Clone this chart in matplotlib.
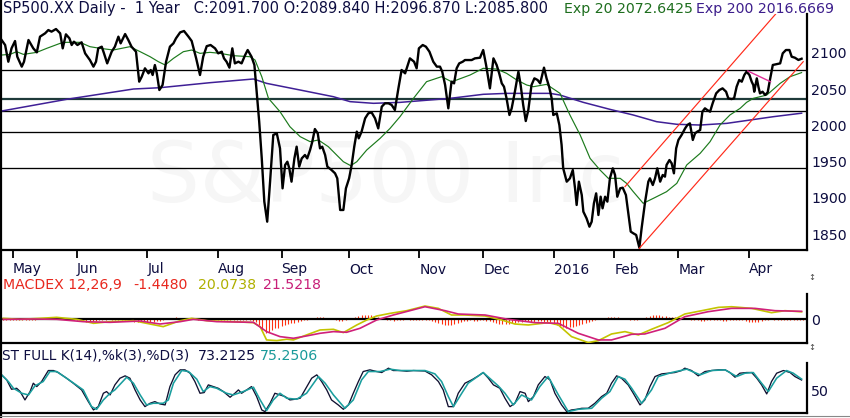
import matplotlib
matplotlib.use("Agg")
import matplotlib.pyplot as plt
from matplotlib.lines import Line2D

# ---- data (x = trading session index) ----
price_day = [0.5, 1.6, 2.6, 3.6, 4.7, 5.4, 6.8, 7.5, 8.9, 10.4,
             11.5, 12.5, 14.1, 15.1, 16.1, 17.5, 18.8, 19.6, 20.6, 21.7,
             22.4, 23.1, 24.2, 25.5, 26.6, 28.1, 29.2, 30.0, 30.7, 31.8,
             32.5, 33.5, 34.9, 35.9, 37.0, 37.7, 39.1, 40.1, 41.1, 42.5,
             43.5, 44.3, 45.3, 46.4, 47.1, 47.7, 48.4, 49.0, 49.8, 50.8,
             51.9, 53.1, 54.2, 55.0, 56.3, 57.5, 58.9, 59.9, 61.3, 62.5,
             63.5, 64.6, 65.8, 67.2, 68.2, 69.3, 70.0, 70.8, 71.7, 72.6,
             73.4, 74.5, 75.5, 76.6, 77.4, 78.6, 79.5, 80.2, 81.0, 81.8,
             82.6, 83.5, 84.4, 85.4, 86.5, 87.5, 88.3, 89.1, 89.8, 90.4,
             91.1, 92.0, 92.7, 93.5, 94.3, 95.3, 96.0, 96.9, 97.6, 98.4,
             99.3, 100.0, 100.7, 101.6, 102.3, 103.6, 104.7, 105.4, 106.3, 107.3,
             108.1, 109.1, 109.9, 110.7, 111.5, 112.1, 113.0, 114.1, 115.1, 116.1,
             117.2, 118.2, 119.3, 120.3, 121.4, 122.4, 123.4, 124.5, 125.5, 126.6,
             128.1, 129.4, 130.2, 130.9, 132.1, 133.1, 134.2, 135.4, 136.5, 137.5,
             138.2, 139.1, 140.1, 141.1, 141.9, 142.7, 143.5, 144.6, 145.3, 146.4,
             147.4, 148.4, 150.0, 151.0, 151.9, 153.1, 154.2, 155.2, 156.0, 156.8,
             157.5, 158.3, 159.2, 159.9, 160.9, 162.0, 162.7, 163.5, 164.3, 165.1,
             166.1, 167.0, 168.0, 168.8, 170.0, 170.8, 171.6, 172.4, 172.9, 174.0,
             174.8, 175.5, 176.0, 177.1, 178.1, 179.0, 179.7, 180.2, 180.9, 181.8,
             182.3, 183.3, 184.2, 184.9, 185.6, 186.3, 187.0, 187.7, 188.3, 189.1,
             189.8, 190.6, 191.5, 192.2, 192.9, 193.8, 194.6, 195.6, 196.4, 197.1,
             197.9, 198.8, 199.8, 200.5, 201.6, 202.6, 203.1, 204.0, 204.7, 205.4,
             206.3, 207.1, 207.8, 208.3, 209.2, 209.9, 210.6, 211.3, 212.0, 213.0,
             214.1, 214.8, 215.6, 216.5, 217.2, 217.9, 218.8, 219.5, 220.3, 221.0,
             221.9, 222.7, 223.8, 224.8, 225.8, 226.9, 227.6, 228.6, 229.4, 230.2,
             231.0, 231.8, 232.6, 233.3, 234.2, 234.9, 235.4, 235.7, 236.5, 237.0,
             237.5, 238.3, 239.1, 239.9, 240.6, 241.5, 242.5, 243.8, 244.6, 245.6,
             246.7, 247.4, 248.4, 249.5, 250.5]
price_close = [2117.5, 2110.6, 2087.6, 2106.0, 2116.1, 2094.5, 2080.8, 2087.6, 2117.5, 2106.0,
               2100.5, 2122.1, 2126.7, 2131.2, 2129.0, 2132.6, 2126.7, 2106.0, 2125.3, 2119.8,
               2110.6, 2115.2, 2110.6, 2114.3, 2099.1, 2089.9, 2080.8, 2087.6, 2106.0, 2108.3,
               2099.1, 2085.3, 2101.4, 2108.3, 2122.1, 2112.9, 2125.7, 2117.5, 2108.3, 2101.4,
               2060.1, 2067.0, 2078.5, 2071.6, 2076.2, 2069.3, 2083.0, 2071.6, 2048.6, 2055.5,
               2087.6, 2108.3, 2112.9, 2119.8, 2128.0, 2129.9, 2122.1, 2116.1, 2092.2, 2069.3,
               2094.5, 2109.0, 2110.6, 2106.0, 2099.1, 2101.4, 2092.2, 2087.6, 2079.4, 2106.0,
               2085.3, 2087.6, 2085.3, 2096.8, 2103.7, 2094.5, 2083.1, 2046.3, 2005.0, 1954.5,
               1894.9, 1867.3, 1922.4, 1986.7, 1988.9, 1968.3, 1913.2, 1945.4, 1949.9, 1940.8,
               1922.4, 1954.5, 1970.6, 1943.1, 1954.5, 1959.1, 1954.5, 1966.0, 1977.5, 1994.9,
               1988.9, 1968.3, 1970.6, 1959.1, 1943.1, 1938.5, 1933.9, 1927.0, 1883.4, 1883.4,
               1913.2, 1927.0, 1945.4, 1970.6, 1991.3, 1982.1, 1991.3, 2009.6, 2016.5, 2017.9,
               2009.6, 1995.8, 2025.7, 2030.3, 2030.3, 2028.0, 2021.1, 2050.9, 2076.2, 2071.6,
               2092.2, 2087.6, 2078.5, 2106.0, 2110.6, 2108.3, 2101.4, 2087.6, 2080.8, 2080.8,
               2073.9, 2055.5, 2023.4, 2060.1, 2057.8, 2078.5, 2085.3, 2087.6, 2089.9, 2089.9,
               2089.9, 2092.2, 2093.1, 2103.7, 2083.1, 2050.9, 2092.2, 2083.1, 2071.6, 2057.8,
               2053.2, 2037.1, 2014.2, 2023.4, 2046.3, 2073.9, 2055.5, 2028.0, 2005.9, 2021.1,
               2055.5, 2064.7, 2062.4, 2057.8, 2079.4, 2064.7, 2053.2, 2037.1, 2014.2, 2016.5,
               2000.4, 1972.9, 1940.8, 1922.4, 1927.0, 1938.5, 1913.2, 1890.3, 1922.4, 1904.0,
               1881.1, 1871.9, 1860.4, 1867.3, 1892.6, 1906.3, 1876.5, 1901.7, 1885.7, 1901.7,
               1894.9, 1927.0, 1940.8, 1931.6, 1901.7, 1913.2, 1914.1, 1904.0, 1876.5, 1853.6,
               1851.3, 1849.0, 1831.5, 1858.1, 1894.9, 1922.4, 1927.0, 1917.8, 1927.0, 1940.8,
               1922.4, 1931.6, 1929.3, 1945.4, 1952.2, 1947.6, 1933.9, 1968.3, 1979.8, 1986.7,
               1995.8, 2000.4, 2002.7, 1979.8, 1988.9, 1991.3, 1993.5, 2018.8, 2023.4, 2021.1,
               2018.8, 2030.3, 2044.0, 2048.6, 2050.9, 2046.3, 2037.1, 2036.2, 2037.1, 2053.2,
               2062.4, 2060.1, 2069.3, 2073.9, 2069.3, 2060.1, 2055.5, 2046.3, 2064.7, 2053.2,
               2044.0, 2046.3, 2041.7, 2045.4, 2062.4, 2083.1, 2084.0, 2085.3, 2099.1, 2103.7,
               2103.7, 2094.5, 2093.1, 2090.0, 2091.7]

ema20_day = [0.5, 3.1, 5.2, 7.3, 11.5, 14.6, 18.8, 20.8, 25.0, 28.1,
             31.3, 35.4, 40.6, 43.8, 46.9, 49.5, 51.6, 54.2, 57.3, 59.9,
             62.5, 65.6, 68.8, 72.9, 78.1, 79.7, 81.8, 83.9, 87.5, 90.6,
             93.8, 96.9, 99.5, 102.6, 105.2, 107.3, 109.6, 111.5, 114.6, 118.8,
             121.9, 125.0, 129.2, 133.3, 138.0, 141.1, 142.7, 146.9, 151.0, 155.2,
             158.3, 161.5, 164.6, 166.7, 170.8, 175.0, 178.1, 181.3, 184.4, 187.5,
             190.1, 193.8, 195.8, 197.9, 201.0, 204.2, 208.3, 211.5, 214.6, 218.8,
             221.9, 225.0, 228.1, 231.3, 233.3, 235.4, 239.6, 243.8, 246.9, 250.5]
ema20 = [2096.8, 2097.7, 2101.4, 2097.7, 2100.5, 2106.0, 2112.9, 2114.3, 2114.3, 2108.3,
         2106.0, 2103.7, 2108.3, 2101.4, 2094.5, 2087.6, 2083.1, 2092.2, 2101.4, 2103.7,
         2099.1, 2100.5, 2099.1, 2095.9, 2094.5, 2089.9, 2067.0, 2037.1, 2018.8, 1998.1,
         1984.4, 1977.5, 1979.8, 1970.6, 1959.1, 1949.9, 1944.4, 1949.9, 1966.0, 1982.1,
         1995.8, 2011.9, 2037.1, 2060.1, 2067.0, 2060.1, 2062.4, 2069.3, 2078.5, 2077.5,
         2071.6, 2062.4, 2055.5, 2053.2, 2056.4, 2044.0, 2014.2, 1986.7, 1954.5, 1938.5,
         1927.0, 1927.0, 1920.1, 1908.6, 1892.6, 1899.5, 1908.6, 1920.1, 1945.4, 1961.4,
         1977.5, 2000.4, 2014.2, 2023.4, 2031.6, 2037.1, 2041.7, 2057.8, 2067.0, 2072.6]

ema200_day = [0.5, 20.8, 41.7, 50.0, 65.6, 79.2, 83.3, 93.8, 104.2, 109.4,
              116.7, 125.0, 140.6, 151.0, 158.3, 171.9, 175.0, 182.3, 190.6, 197.9,
              205.2, 211.5, 218.8, 227.1, 234.4, 241.7, 250.5]
ema200 = [2019.7, 2035.8, 2050.0, 2051.8, 2058.7, 2063.8, 2057.8, 2048.6, 2039.4, 2032.6,
          2030.3, 2031.6, 2037.1, 2042.7, 2044.0, 2044.0, 2041.7, 2031.6, 2022.0, 2014.2,
          2005.0, 2001.4, 2000.4, 2002.7, 2007.3, 2011.9, 2016.7]

levels = [2076.2, 2035.8, 2019.7, 1990.4, 1940.8]
upper_day, upper_val = [195.3, 242.4], [1915.5, 2153.3]
lower_day, lower_val = [199.8, 251.0], [1830.7, 2087.6]
pink_day, pink_val = [233.7, 240.8], [2074.8, 2060.0]

month_days = [4, 24, 46, 68, 88, 109, 131, 151, 173, 192, 212, 234]
month_labels = ["May", "Jun", "Jul", "Aug", "Sep", "Oct", "Nov", "Dec",
                "2016", "Feb", "Mar", "Apr"]
price_ticks = [1850, 1900, 1950, 2000, 2050, 2100]

macd_day = [1.0, 6.3, 12.5, 17.7, 24.0, 29.2, 34.4, 41.7, 45.8, 51.0,
            56.3, 59.9, 64.6, 72.9, 79.2, 81.3, 83.3, 86.5, 89.6, 91.7,
            95.8, 100.0, 104.2, 107.3, 111.5, 114.6, 117.7, 121.9, 127.1, 132.8,
            137.0, 141.1, 145.3, 151.6, 156.8, 160.9, 165.1, 171.3, 174.5, 178.6,
            183.8, 187.0, 191.1, 195.3, 199.5, 203.6, 208.8, 214.0, 219.3, 224.5,
            228.6, 234.9, 241.1, 245.3, 250.5]
macd_line = [1.9, -0.9, 1.9, 4.7, -0.9, -12.1, -7.4, -4.7, -12.1, -21.4,
             -4.7, 1.9, -4.7, -7.4, -10.2, -21.4, -58.6, -60.5, -56.7, -58.6,
             -44.6, -30.7, -28.8, -38.1, -16.7, -2.8, 8.4, 15.8, 23.3, 36.3,
             29.8, 11.2, 11.2, 8.4, -2.8, -14.0, -16.7, -10.2, -16.7, -49.3,
             -66.0, -60.5, -41.9, -35.3, -44.6, -28.8, -10.2, 14.0, 23.3, 32.6,
             34.4, 29.8, 17.7, 23.3, 20.1]
sig_day = [1.0, 10.4, 17.7, 26.0, 34.4, 43.8, 50.0, 56.3, 60.4, 67.7,
           79.2, 83.3, 87.5, 91.7, 95.8, 100.0, 104.2, 108.3, 112.5, 117.7,
           122.9, 128.1, 132.8, 139.1, 143.2, 151.6, 158.8, 167.2, 174.5, 180.7,
           187.0, 191.1, 197.4, 201.5, 207.8, 214.0, 221.3, 228.6, 235.9, 242.2,
           250.5]
sig_line = [-0.9, 0.0, -0.9, -7.4, -9.3, -5.6, -14.0, -7.4, -0.9, -7.4,
            -9.3, -35.3, -49.3, -53.9, -47.4, -40.0, -35.3, -37.2, -26.0, -2.8,
            11.2, 23.3, 34.4, 23.3, 14.0, 11.2, -0.9, -10.2, -12.1, -40.0,
            -58.6, -58.6, -42.8, -41.9, -26.0, 6.5, 20.5, 29.8, 29.8, 23.3,
            21.5]
# histogram, one bar per session 1..251
hist = [-3, -4, -3, -2, -3, -4, -3, -2, -3, -2,
        -2, -1, 2, 3, 3, 2, 3, 2, 1, -1,
        -2, -3, -3, -4, -5, -6, -7, -6, -6, -5,
        -4, -3, -2, -1, -2, -3, -3, -2, -3, -4,
        -5, -7, -8, -9, -9, -8, -8, -7, -6, -5,
        -3, 1, 3, 4, 5, 4, 4, 3, 2, 1,
        -1, -2, -2, -3, -4, -3, -3, -2, -3, -2,
        -3, -3, -4, -3, -3, -2, -3, -4, -5, -8,
        -18, -32, -38, -35, -30, -26, -24, -20, -18, -14,
        -12, -10, -8, -6, -4, -2, 1, 3, 5, 6,
        5, 4, 2, -1, -3, -5, -6, -4, -1, 2,
        6, 9, 11, 12, 11, 10, 8, 5, 2, -1,
        -3, -4, -5, -4, -3, -2, -1, -2, -3, -4,
        -4, -3, -3, -4, -6, -8, -12, -15, -17, -17,
        -16, -14, -11, -8, -6, -5, -4, -5, -5, -4,
        -4, -5, -6, -8, -11, -13, -15, -15, -14, -12,
        -10, -8, -7, -6, -6, -7, -7, -6, -6, -7,
        -9, -12, -15, -18, -21, -23, -24, -23, -22, -20,
        -18, -15, -12, -9, -6, -3, -1, 1, 3, 5,
        6, 6, 5, 4, 2, -1, -3, -4, -2, 1,
        4, 7, 9, 10, 10, 10, 9, 8, 7, 6,
        5, 4, 3, 2, -1, -3, -4, -4, -5, -5,
        -4, -4, -3, -3, -4, -5, -5, -4, -4, -3,
        -3, -4, -5, -7, -8, -8, -7, -5, -3, -2,
        -1, -2, -3, -4, -4, -4, -3, -3, -3, -3, -2]
hist_day = list(range(1, len(hist) + 1))

k_day = [0.5, 2.1, 3.6, 5.2, 6.3, 7.8, 9.4, 10.4, 11.5, 13.0,
         15.1, 16.7, 18.2, 20.8, 22.9, 25.5, 27.6, 29.2, 30.7, 32.3,
         33.3, 34.4, 35.9, 37.5, 39.1, 40.6, 42.2, 43.8, 45.3, 46.9,
         48.4, 50.0, 51.6, 53.1, 54.7, 56.3, 57.8, 59.4, 60.9, 62.5,
         63.8, 65.1, 66.7, 68.2, 69.8, 71.9, 73.4, 74.5, 75.5, 77.1,
         78.6, 80.2, 81.8, 82.8, 84.4, 85.9, 87.5, 89.1, 90.6, 92.2,
         93.8, 95.3, 97.4, 99.0, 100.5, 102.1, 103.6, 105.7, 107.3, 108.9,
         110.4, 112.0, 113.5, 115.6, 117.7, 119.3, 121.4, 122.9, 125.0, 127.1,
         129.2, 132.8, 134.9, 137.0, 138.5, 140.1, 141.7, 143.2, 145.3, 147.4,
         149.5, 151.0, 152.6, 154.2, 156.2, 157.8, 159.4, 160.9, 162.5, 164.1,
         165.1, 166.7, 168.2, 170.3, 171.9, 173.4, 175.5, 177.1, 178.6, 180.2,
         181.8, 183.8, 185.9, 188.0, 189.6, 191.1, 192.7, 194.2, 196.3, 197.9,
         200.0, 201.5, 203.1, 204.7, 206.8, 208.9, 210.9, 213.0, 214.0, 216.1,
         218.2, 220.3, 222.4, 224.5, 226.6, 228.1, 229.7, 231.2, 233.3, 234.9,
         236.5, 238.0, 239.6, 241.1, 242.7, 244.8, 246.9, 248.4, 250.5]
k_val = [84.6, 73.5, 52.9, 55.1, 47.8, 29.4, 47.8, 66.2, 58.8, 69.9,
         94.1, 94.1, 89.7, 77.2, 66.2, 51.5, 25.7, 7.4, 14.7, 44.1,
         47.8, 40.4, 62.5, 77.2, 82.4, 77.2, 51.5, 29.4, 14.7, 22.1,
         25.7, 20.6, 18.4, 58.8, 84.6, 95.6, 95.6, 88.2, 69.9, 44.1,
         45.6, 62.5, 58.8, 55.1, 47.8, 35.3, 44.1, 51.5, 44.1, 51.5,
         58.8, 36.8, 7.4, 3.7, 22.1, 44.1, 40.4, 36.8, 29.4, 30.9,
         33.1, 51.5, 77.2, 84.6, 69.9, 51.5, 29.4, 18.4, 8.8, 18.4,
         44.1, 69.9, 91.9, 95.6, 91.9, 89.7, 99.3, 94.1, 94.1, 92.6,
         94.1, 93.0, 84.6, 69.9, 51.5, 14.7, 14.7, 44.1, 66.2, 73.5,
         82.4, 89.7, 77.2, 62.5, 55.1, 33.1, 14.7, 22.1, 47.8, 44.1,
         25.7, 36.8, 62.5, 80.9, 73.5, 44.1, 18.4, 3.7, 7.4, 8.8,
         11.0, 11.0, 22.1, 36.8, 44.1, 66.2, 82.4, 77.2, 62.5, 44.1,
         18.4, 29.4, 58.8, 80.9, 86.8, 88.2, 89.7, 94.1, 99.3, 94.1,
         82.4, 91.9, 94.1, 95.6, 95.6, 89.7, 79.4, 88.2, 89.7, 89.7,
         77.2, 62.5, 42.6, 69.9, 88.2, 94.1, 89.7, 80.9, 73.2]
d_day = [0.5, 2.6, 4.2, 6.8, 8.9, 10.9, 13.5, 15.6, 17.7, 20.8,
         26.0, 28.6, 30.2, 32.3, 34.4, 35.9, 39.6, 41.7, 43.8, 45.8,
         47.9, 51.0, 52.6, 54.2, 56.8, 58.9, 61.5, 63.5, 65.6, 67.7,
         70.8, 72.9, 76.0, 79.2, 81.3, 83.3, 85.4, 87.5, 89.6, 92.7,
         95.8, 99.5, 101.6, 104.2, 107.8, 110.4, 113.0, 115.1, 118.8, 121.9,
         125.0, 132.8, 135.9, 138.0, 140.1, 141.7, 144.3, 146.3, 151.0, 153.6,
         155.7, 157.8, 160.4, 163.0, 166.1, 168.7, 171.3, 174.5, 177.6, 180.7,
         184.9, 188.0, 190.6, 193.2, 195.3, 197.4, 200.5, 203.6, 205.7, 209.9,
         214.6, 218.8, 222.4, 226.6, 230.2, 232.8, 235.4, 238.0, 240.1, 242.7,
         245.8, 247.9, 250.5]
d_val = [84.6, 69.9, 55.1, 44.1, 40.4, 60.3, 69.9, 91.9, 91.9, 77.2,
         51.5, 14.7, 8.8, 29.4, 44.1, 51.5, 79.4, 66.2, 40.4, 18.4,
         22.1, 22.1, 29.4, 66.2, 94.1, 91.9, 75.0, 47.8, 58.8, 55.1,
         44.1, 40.4, 47.8, 57.4, 29.4, 5.9, 29.4, 44.1, 33.1, 30.9,
         44.1, 80.9, 66.2, 40.4, 11.0, 29.4, 73.5, 91.9, 91.9, 97.1,
         94.1, 94.1, 86.8, 69.9, 36.8, 14.7, 44.1, 66.2, 89.7, 73.5,
         60.3, 44.1, 18.4, 40.4, 29.4, 58.8, 80.9, 40.4, 3.7, 8.8,
         11.0, 33.1, 47.8, 80.9, 75.0, 55.1, 22.1, 51.5, 80.9, 89.7,
         97.1, 84.6, 94.1, 95.6, 80.9, 88.2, 89.7, 66.2, 47.8, 77.2,
         94.1, 88.2, 75.3]

# ---- layout ----
W, H = 850, 418
NAVY = "#0d0d40"
plt.rcParams["font.family"] = ["DejaVu Sans"]


def px_rect(left, top, right, bottom):
    return [left / W, 1 - bottom / H, (right - left) / W, (bottom - top) / H]


def base_axes(rect):
    ax = fig.add_axes(rect)
    ax.set_xlim(2 / 3.2, 807 / 3.2)
    for s in ("top", "left"):
        ax.spines[s].set_visible(False)
    for s in ("right", "bottom"):
        ax.spines[s].set_linewidth(1.6)
    ax.yaxis.tick_right()
    ax.tick_params(axis="y", length=0, pad=3, labelsize=10.2, labelcolor=NAVY)
    return ax


fig = plt.figure(figsize=(W / 100, H / 100), dpi=100)

# main price panel
ax = base_axes(px_rect(2, 14, 807, 250))
ax.set_ylim(1828.3, 2153.3)
ax.text(0.476, 0.305, "S&P500 Inc", transform=ax.transAxes, fontsize=60,
        color="#f6f6f6", ha="center", va="center", zorder=0)
for lv in levels:
    if lv == 2035.8:
        ax.axhline(lv, color="#1e3a3a", lw=1.6, zorder=1)
    else:
        ax.axhline(lv, color="black", lw=0.95, zorder=1)
ax.plot(ema200_day, ema200, color="#3f1f96", lw=1.1, zorder=2)
ax.plot(ema20_day, ema20, color="#1c7a1c", lw=0.85, zorder=3)
ax.plot(price_day, price_close, color="black", lw=1.7, zorder=4)
ax.plot(upper_day, upper_val, color="#ff2a1a", lw=0.85, zorder=5)
ax.plot(lower_day, lower_val, color="#ff2a1a", lw=0.85, zorder=5)
ax.plot(pink_day, pink_val, color="#e0309a", lw=1.0, zorder=5)
ax.set_yticks(price_ticks)
ax.set_xticks(month_days)
ax.set_xticklabels(month_labels, ha="left")
ax.tick_params(axis="x", length=6, width=1.3, pad=3, labelsize=10,
               labelcolor=NAVY, direction="out")

# MACD panel
axm = base_axes(px_rect(2, 294, 807, 343.3))
axm.set_ylim(-68, 70)
axm.vlines(hist_day, 0, hist, color="#ff3010", lw=0.8, zorder=1)
axm.axhline(0, color="black", lw=1.6, zorder=2)
axm.plot(macd_day, macd_line, color="#c4c400", lw=1.2, zorder=3)
axm.plot(sig_day, sig_line, color="#d0207a", lw=1.2, zorder=4)
axm.set_xticks([])
axm.set_yticks([0])

# stochastic panel
axs = base_axes(px_rect(2, 363.3, 807, 413.3))
axs.set_ylim(0, 110)
axs.plot(k_day, k_val, color="#101030", lw=0.95, zorder=2)
axs.plot(d_day, d_val, color="#1a9e9e", lw=1.15, zorder=3)
axs.set_xticks([])
axs.set_yticks([50])

# titles
def ftext(x, y, s, color, size=10.2):
    fig.text(x / W, 1 - y / H, s, color=color, fontsize=size, va="center", ha="left")


ftext(3, 8.5, "SP500.XX Daily -  1 Year   C:2091.700 O:2089.840 H:2096.870 L:2085.800", NAVY, 10.5)
ftext(564, 8.5, "Exp 20 2072.6425", "#1e6e1e")
ftext(696, 8.5, "Exp 200 2016.6669", "#3d1e8c")
ftext(3, 285, "MACDEX 12,26,9", "#e8281e")
ftext(133, 285, "-1.4480", "#e8281e")
ftext(198, 285, "20.0738", "#b0b000")
ftext(263, 285, "21.5218", "#c81e78")
ftext(2, 356, "ST FULL K(14),%k(3),%D(3)", NAVY, 9.8)
ftext(198, 356, "73.2125", NAVY)
ftext(260, 356, "75.2506", "#1a9a9a")
ftext(808, 278, "\u2195", "#444444", size=6)
ftext(808, 347, "\u2195", "#444444", size=6)

# outer frame
fig.add_artist(Line2D([1 / W, 1 / W], [0, 1], transform=fig.transFigure,
                      color="black", lw=1.6))
fig.add_artist(Line2D([0, 1], [2 / H, 2 / H], transform=fig.transFigure,
                      color="#888888", lw=0.8))

fig.savefig("out.png", dpi=100)
